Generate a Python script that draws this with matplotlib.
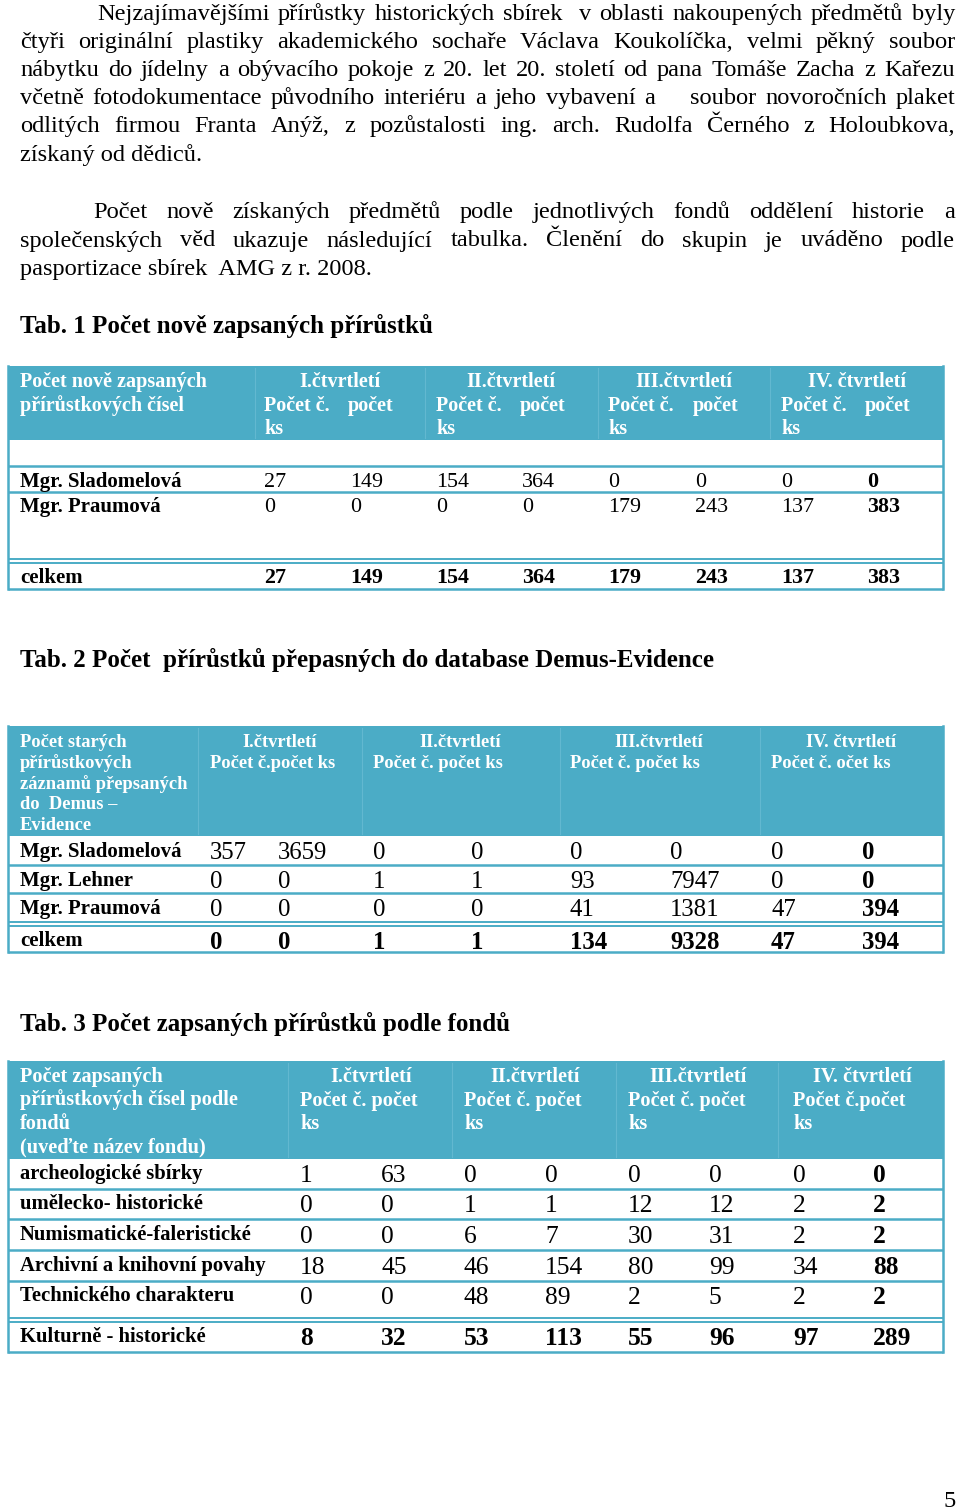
import matplotlib.pyplot as plt
from matplotlib.patches import Rectangle

plt.rcParams['font.family'] = ['Liberation Serif', 'DejaVu Serif']

# ---- text of the page ----
par1 = [
    "Nejzajímavějšími přírůstky historických sbírek  v oblasti nakoupených předmětů byly",
    "čtyři originální plastiky akademického sochaře Václava Koukolíčka, velmi pěkný soubor",
    "nábytku do jídelny a obývacího pokoje z 20. let 20. století od pana Tomáše Zacha z Kařezu",
    "včetně fotodokumentace původního interiéru a jeho vybavení a    soubor novoročních plaket",
    "odlitých firmou Franta Anýž, z pozůstalosti ing. arch. Rudolfa Černého z Holoubkova,",
    "získaný od dědiců.",
]
par2 = [
    "Počet nově získaných předmětů podle jednotlivých fondů oddělení historie a",
    "společenských věd ukazuje následující tabulka. Členění do skupin je uváděno podle",
    "pasportizace sbírek  AMG z r. 2008.",
]
quarters = ["I.čtvrtletí", "II.čtvrtletí", "III.čtvrtletí", "IV. čtvrtletí"]

# ---- table 1 ----
t1_title = "Tab. 1 Počet nově zapsaných přírůstků"
t1_head = ["Počet nově zapsaných", "přírůstkových čísel"]
t1_rows = ["Mgr. Sladomelová", "Mgr. Praumová"]
t1_vals = [[27, 149, 154, 364, 0, 0, 0, 0],
           [0, 0, 0, 0, 179, 243, 137, 383]]
t1_total = [27, 149, 154, 364, 179, 243, 137, 383]

# ---- table 2 ----
t2_title = "Tab. 2 Počet  přírůstků přepasných do database Demus-Evidence"
t2_head = ["Počet starých", "přírůstkových", "záznamů přepsaných", "do  Demus –", "Evidence"]
t2_sub = ["Počet č.počet ks", "Počet č. počet ks", "Počet č. počet ks", "Počet č. očet ks"]
t2_rows = ["Mgr. Sladomelová", "Mgr. Lehner", "Mgr. Praumová"]
t2_vals = [[357, 3659, 0, 0, 0, 0, 0, 0],
           [0, 0, 1, 1, 93, 7947, 0, 0],
           [0, 0, 0, 0, 41, 1381, 47, 394]]
t2_total = [0, 0, 1, 1, 134, 9328, 47, 394]

# ---- table 3 ----
t3_title = "Tab. 3 Počet zapsaných přírůstků podle fondů"
t3_head = ["Počet zapsaných", "přírůstkových čísel podle", "fondů", "(uveďte název fondu)"]
t3_sub = ["Počet č. počet", "Počet č. počet", "Počet č. počet", "Počet č.počet"]
t3_rows = ["archeologické sbírky", "umělecko- historické", "Numismatické-faleristické",
           "Archivní a knihovní povahy", "Technického charakteru"]
t3_vals = [[1, 63, 0, 0, 0, 0, 0, 0],
           [0, 0, 1, 1, 12, 12, 2, 2],
           [0, 0, 6, 7, 30, 31, 2, 2],
           [18, 45, 46, 154, 80, 99, 34, 88],
           [0, 0, 48, 89, 2, 5, 2, 2]]
t3_total_label = "Kulturně - historické"
t3_total = [8, 32, 53, 113, 55, 96, 97, 289]

HEAD = '#4bacc6'
LINE = '#4bacc6'
DIV = '#62b8d0'

W, H = 960, 1511
fig = plt.figure(figsize=(W / 100, H / 100), dpi=100)
ax = fig.add_axes([0, 0, 1, 1])
ax.set_xlim(0, W)
ax.set_ylim(H, 0)
ax.axis('off')
renderer = fig.canvas.get_renderer()

BODY = 17.6


def width(s, **kw):
    t = ax.text(0, 0, s, **kw)
    w = t.get_window_extent(renderer).width
    t.remove()
    return w


def justify(line, x0, x1, y, **kw):
    words = line.split(' ')
    ws = [width(w, **kw) if w else 0 for w in words]
    gap = (x1 - x0 - sum(ws)) / (len(words) - 1)
    x = x0
    for w, wd in zip(words, ws):
        if w:
            ax.text(x, y, w, va='baseline', ha='left', **kw)
        x += wd + gap


# paragraphs
for i, line in enumerate(par1):
    y = 20 + 28.1 * i
    x0 = 97 if i == 0 else 20
    if i < len(par1) - 1:
        justify(line, x0, 955, y, fontsize=BODY)
    else:
        ax.text(x0, y, line, va='baseline', fontsize=BODY)
for i, line in enumerate(par2):
    y = 218 + 28.5 * i
    x0 = 93 if i == 0 else 20
    if i < len(par2) - 1:
        justify(line, x0, 955, y, fontsize=BODY)
    else:
        ax.text(x0, y, line, va='baseline', fontsize=BODY)

for title, y in [(t1_title, 333), (t2_title, 667), (t3_title, 1031)]:
    ax.text(20, y, title, va='baseline', fontsize=18, fontweight='bold')

L, R = 8, 943


def hline(y, lw=1.8):
    ax.plot([L, R], [y, y], color=LINE, lw=lw, solid_capstyle='butt')


def frame(top, head_bot, bottom, dividers, row_lines, dbl):
    ax.add_patch(Rectangle((L, top), R - L, head_bot - top, color=HEAD, lw=0))
    for x in dividers:
        ax.plot([x, x], [top + 2, head_bot - 2], color=DIV, lw=0.8)
    for y in row_lines:
        hline(y)
    hline(dbl, 1.4)
    hline(dbl + 3.5, 1.4)
    hline(bottom)
    ax.plot([L, L], [top, bottom], color=LINE, lw=1.8)
    ax.plot([R, R], [top, bottom], color=LINE, lw=1.8)


def values(xs, y, vals, size, bold_all=False):
    for j, (x, v) in enumerate(zip(xs, vals)):
        b = bold_all or j == len(vals) - 1
        ax.text(x, y, str(v), va='baseline', fontsize=size,
                fontweight='bold' if b else 'normal')


# ---- table 1 ----
x1 = [264, 350, 436, 522, 608, 695, 781, 867]
frame(366, 440, 589, [255, 425, 598, 770], [466, 492], 559)
for i, s in enumerate(t1_head):
    ax.text(20, 387 + 24 * i, s, color='white', fontsize=14.5, fontweight='bold', va='baseline')
for q, c in zip(quarters, [340, 511, 684, 857]):
    ax.text(c, 387, q, color='white', fontsize=14.5, fontweight='bold', va='baseline', ha='center')
for k in range(4):
    ax.text(x1[2 * k], 411, "Počet č.", color='white', fontsize=14.5, fontweight='bold', va='baseline')
    ax.text(x1[2 * k + 1] - 2, 411, "počet", color='white', fontsize=14.5, fontweight='bold', va='baseline')
    ax.text(x1[2 * k], 434, "ks", color='white', fontsize=14.5, fontweight='bold', va='baseline')
for lab, vals, y in zip(t1_rows, t1_vals, [487, 512]):
    ax.text(20, y, lab, fontsize=15, fontweight='bold', va='baseline')
    values(x1, y, vals, 15.8)
ax.text(20, 583, "celkem", fontsize=15, fontweight='bold', va='baseline')
values(x1, 583, t1_total, 15.8, True)

# ---- table 2 ----
x2 = [210, 278, 373, 471, 570, 670, 771, 862]
frame(726, 836, 952, [198, 362, 560, 760], [865, 893], 922)
for i, s in enumerate(t2_head):
    ax.text(20, 747 + 20.8 * i, s, color='white', fontsize=13.3, fontweight='bold', va='baseline')
for q, c, sub, xs in zip(quarters, [280, 460, 659, 851], t2_sub, x2[::2]):
    ax.text(c, 747, q, color='white', fontsize=13.3, fontweight='bold', va='baseline', ha='center')
    ax.text(xs, 768, sub, color='white', fontsize=13.3, fontweight='bold', va='baseline')
for lab, vals, y in zip(t2_rows, t2_vals, [857, 886, 914]):
    ax.text(20, y, lab, fontsize=15, fontweight='bold', va='baseline')
    values(x2, y + 2, vals, 17.8)
ax.text(20, 946, "celkem", fontsize=15, fontweight='bold', va='baseline')
values(x2, 949, t2_total, 17.8, True)

# ---- table 3 ----
x3 = [300, 381, 464, 545, 628, 709, 793, 873]
frame(1061, 1159, 1352, [288, 452, 616, 778], [1189, 1219, 1250, 1281], 1318)
for i, s in enumerate(t3_head):
    ax.text(20, 1082 + 23.5 * i, s, color='white', fontsize=14.6, fontweight='bold', va='baseline')
for q, c, sub, xs in zip(quarters, [371, 535, 698, 862], t3_sub, x3[::2]):
    ax.text(c, 1082, q, color='white', fontsize=14.6, fontweight='bold', va='baseline', ha='center')
    ax.text(xs, 1106, sub, color='white', fontsize=14.6, fontweight='bold', va='baseline')
    ax.text(xs, 1129, "ks", color='white', fontsize=14.6, fontweight='bold', va='baseline')
for lab, vals, y in zip(t3_rows, t3_vals, [1179, 1209, 1240, 1271, 1301]):
    ax.text(20, y, lab, fontsize=14.9, fontweight='bold', va='baseline')
    values(x3, y + 3, vals, 18.4)
ax.text(20, 1342, t3_total_label, fontsize=14.9, fontweight='bold', va='baseline')
values(x3, 1345, t3_total, 18.4, True)

ax.text(956, 1507, "5", fontsize=BODY, va='baseline', ha='right')

fig.savefig("out.png", dpi=100)
